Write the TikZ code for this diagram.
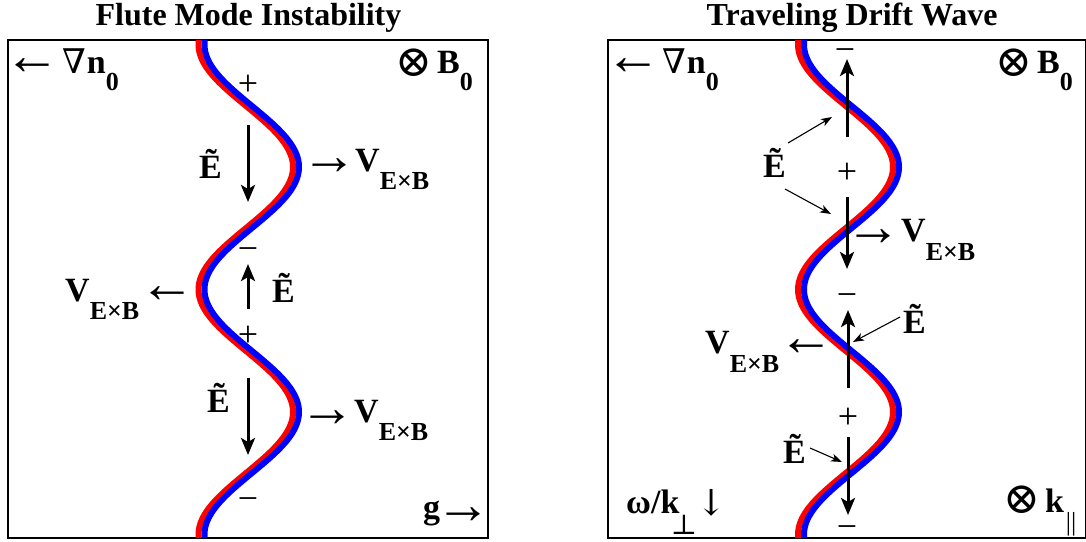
\documentclass[tikz,border=0pt]{standalone}
\usepackage{fontspec}
\setmainfont{Liberation Serif}
\newfontfamily\symf{DejaVu Serif}
\usepackage{graphicx}
\usetikzlibrary{arrows.meta}
\newcommand\lowsub[2][18pt]{\raisebox{-#1}{\fontsize{26}{26}\selectfont\bfseries #2}}
\tikzset{
  lab/.style={inner sep=0pt, anchor=base west, font=\fontsize{34}{34}\selectfont\bfseries},
  sgn/.style={inner sep=0pt, anchor=center, font=\fontsize{36}{36}\selectfont},
  arr/.style={inner sep=0pt, anchor=center, font=\fontsize{56}{56}\selectfont},
  otim/.style={inner sep=0pt, anchor=center, font=\fontsize{44}{44}\selectfont\symf},
  ttl/.style={inner sep=0pt, anchor=base, font=\fontsize{32}{32}\selectfont\bfseries},
  efield/.style={line width=3pt, -{Stealth[length=17pt,width=14pt,inset=4pt]}},
  anno/.style={line width=1.1pt, -{Stealth[length=11pt,width=8pt,inset=3pt]}},
  panel/.style={line width=1.3pt},
  redw/.style={red, line width=6pt},
  bluew/.style={blue, line width=6pt}
}
\begin{document}
\begin{tikzpicture}[x=1pt,y=-1pt]
\useasboundingbox (0,0) rectangle (1086,541);
% ---------- left panel ----------
\node[ttl] (title1) at (248.5,25) {Flute Mode Instability};
\draw[panel] (8,40) rectangle (488,538);
\draw[redw] plot[domain=40:538, samples=200, variable=\t] ({248.75-47.25*cos((\t-289.5)/245*360)-3}, \t);
\draw[bluew] plot[domain=40:538, samples=200, variable=\t] ({248.75-47.25*cos((\t-289.5)/245*360)+3}, \t);

\node[arr] (gl1) at (33,67) {←};
\node[lab] (grad1) at (62,73) {{\symf\mdseries ∇}\hspace{1pt}n\lowsub[17pt]{0}};
\node[otim] (ot1) at (414,63) {⊗};
\node[lab] (B1) at (437,73) {B\lowsub[17pt]{0}};

\node[sgn] (p1) at (248,85) {+};
\coordinate (a1s) at (248,125); \coordinate (a1e) at (248,202);
\draw[efield] (a1s) -- (a1e);
\node[lab] (E1) at (199,178) {Ẽ};
\node[arr] (r1) at (329,166.5) {→};
\node[lab] (V1) at (355,171) {V\lowsub{E×B}};

\node[sgn] (m1) at (248,254) {−};
\coordinate (a2s) at (248,309); \coordinate (a2e) at (248,264);
\draw[efield] (a2s) -- (a2e);
\node[lab] (E2) at (272,302) {Ẽ};
\node[lab] (V2) at (65,301) {V\lowsub{E×B}};
\node[arr] (l2) at (167.5,294.5) {←};

\node[sgn] (p2) at (248,336) {+};
\coordinate (a3s) at (248,378); \coordinate (a3e) at (248,455);
\draw[efield] (a3s) -- (a3e);
\node[lab] (E3) at (207,412) {Ẽ};
\node[arr] (r3) at (327.5,418.5) {→};
\node[lab] (V3) at (354,422) {V\lowsub{E×B}};

\node[sgn] (m2) at (248,504) {−};
\node[lab] (g1) at (423,518) {g};
\node[arr] (rg) at (463,515.5) {→};

% ---------- right panel ----------
\node[ttl] (title2) at (852,25) {Traveling Drift Wave};
\draw[panel] (608,40) rectangle (1085.3,538);
\draw[redw] plot[domain=40:538, samples=200, variable=\t] ({848.5-47.5*cos((\t-289.5)/245*360)-3}, \t);
\draw[bluew] plot[domain=40:538, samples=200, variable=\t] ({848.5-47.5*cos((\t-289.5)/245*360)+3}, \t);

\node[arr] (gl2) at (633,67) {←};
\node[lab] (grad2) at (662,73) {{\symf\mdseries ∇}\hspace{1pt}n\lowsub[17pt]{0}};
\node[otim] (ot2) at (1014,63) {⊗};
\node[lab] (B2) at (1037,73) {B\lowsub[17pt]{0}};

\node[sgn] (rm1) at (845,55) {−};
\coordinate (b1s) at (847,137); \coordinate (b1e) at (847,59);
\draw[efield] (b1s) -- (b1e);
\node[lab] (EL) at (763,177) {Ẽ};
\coordinate (c1s) at (788,143); \coordinate (c1e) at (832,117);
\draw[anno] (c1s) -- (c1e);
\coordinate (c2s) at (785,189); \coordinate (c2e) at (831,214);
\draw[anno] (c2s) -- (c2e);

\node[sgn] (rp1) at (847,173) {+};
\coordinate (b2s) at (847,197); \coordinate (b2e) at (847,269);
\draw[efield] (b2s) -- (b2e);
\node[arr] (rr1) at (873,237.5) {→};
\node[lab] (VR) at (901,241) {V\lowsub[19pt]{E×B}};

\node[sgn] (rm2) at (847,300) {−};
\coordinate (b3s) at (848,388); \coordinate (b3e) at (848,310);
\draw[efield] (b3s) -- (b3e);
\node[lab] (ER) at (903,333) {Ẽ};
\coordinate (c3s) at (900,317); \coordinate (c3e) at (853,342);
\draw[anno] (c3s) -- (c3e);
\node[lab] (VL) at (705,353) {V\lowsub[19pt]{E×B}};
\node[arr] (rl2) at (806,347.5) {←};

\node[sgn] (rp2) at (848,418) {+};
\coordinate (b4s) at (848,437); \coordinate (b4e) at (848,515);
\draw[efield] (b4s) -- (b4e);
\node[lab] (EB) at (783,463) {Ẽ};
\coordinate (c4s) at (810,448); \coordinate (c4e) at (842,462);
\draw[anno] (c4s) -- (c4e);
\node[sgn] (rm3) at (847,532) {−};

\node[lab] (omk) at (626,513) {ω/k};
\node[inner sep=0pt, anchor=center, font=\fontsize{28}{28}\selectfont\symf] (perp) at (684,525) {⊥};
\node[inner sep=0pt, anchor=center, font=\fontsize{36}{36}\selectfont\symf] (dn) at (712,503) {↓};
\node[otim] (ot3) at (1022,500) {⊗};
\node[lab] (kpar) at (1045,512) {k};
\node[inner sep=0pt, anchor=center, font=\fontsize{26}{26}\selectfont] (par) at (1071,524) {||};
\end{tikzpicture}
\end{document}
